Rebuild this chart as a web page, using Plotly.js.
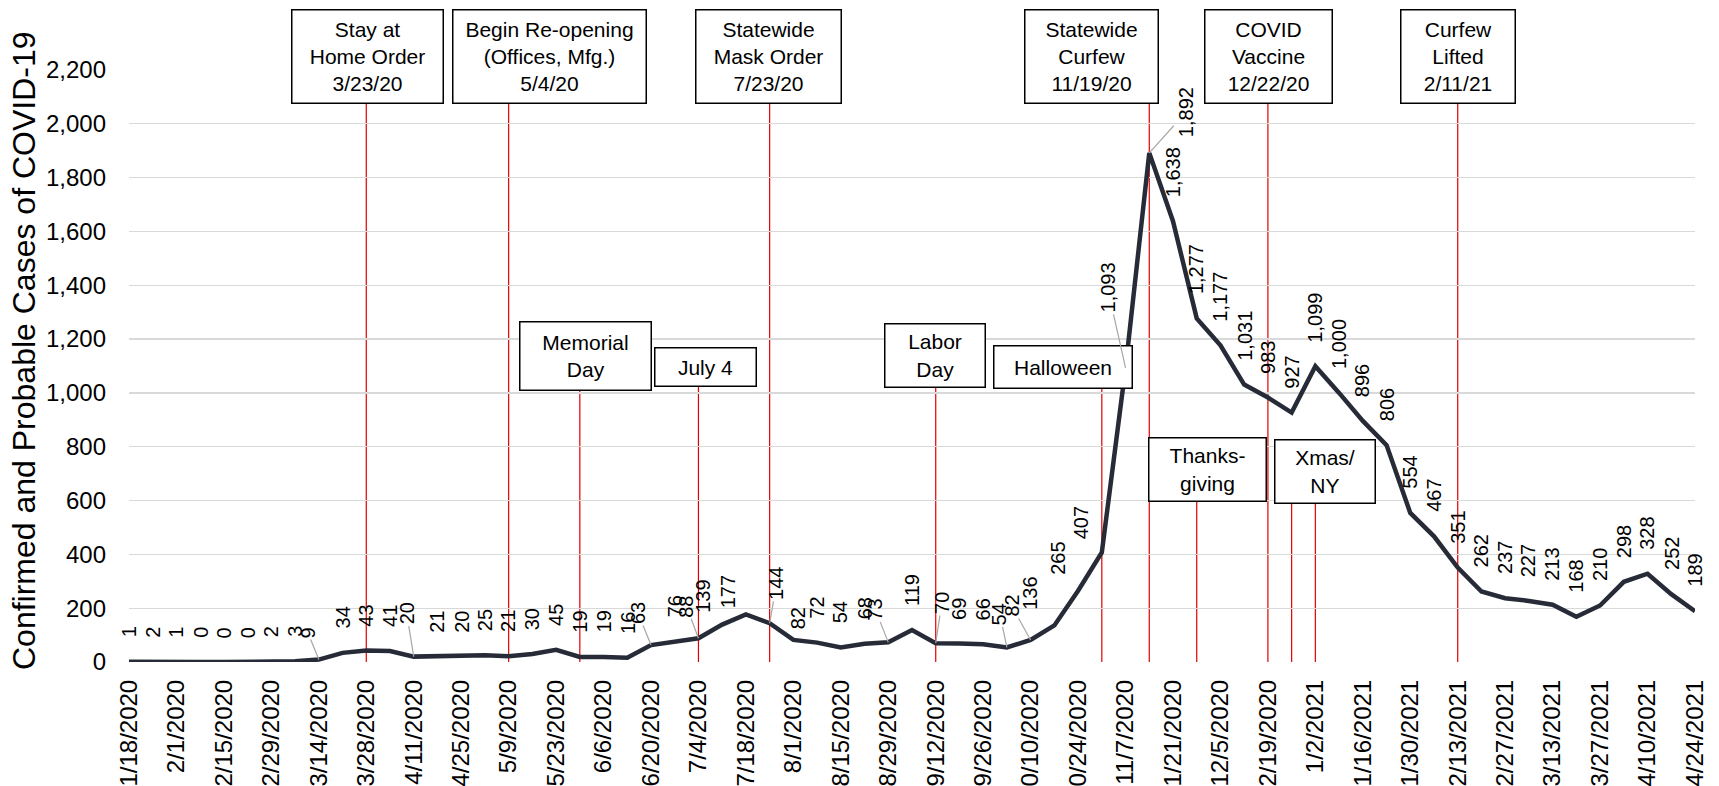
<!DOCTYPE html>
<html><head><meta charset="utf-8">
<script src="https://cdn.plot.ly/plotly-3.0.1.min.js"></script>
<style>html,body{margin:0;padding:0;background:#fff;overflow:hidden}#chart{width:1719px;height:786px}</style>
</head><body><div id="chart"></div>
<script>
// ---------------- DATA ----------------
const weekDates = [
 '2020-01-18','2020-01-25','2020-02-01','2020-02-08','2020-02-15','2020-02-22','2020-02-29','2020-03-07','2020-03-14','2020-03-21',
 '2020-03-28','2020-04-04','2020-04-11','2020-04-18','2020-04-25','2020-05-02','2020-05-09','2020-05-16','2020-05-23','2020-05-30',
 '2020-06-06','2020-06-13','2020-06-20','2020-06-27','2020-07-04','2020-07-11','2020-07-18','2020-07-25','2020-08-01','2020-08-08',
 '2020-08-15','2020-08-22','2020-08-29','2020-09-05','2020-09-12','2020-09-19','2020-09-26','2020-10-03','2020-10-10','2020-10-17',
 '2020-10-24','2020-10-31','2020-11-07','2020-11-14','2020-11-21','2020-11-28','2020-12-05','2020-12-12','2020-12-19','2020-12-26',
 '2021-01-02','2021-01-09','2021-01-16','2021-01-23','2021-01-30','2021-02-06','2021-02-13','2021-02-20','2021-02-27','2021-03-06',
 '2021-03-13','2021-03-20','2021-03-27','2021-04-03','2021-04-10','2021-04-17','2021-04-24'];
const weeklyCases = [
 1,2,1,0,0,0,2,3,9,34,
 43,41,20,21,20,25,21,30,45,19,
 19,16,63,76,88,139,177,144,82,72,
 54,68,73,119,70,69,66,54,82,136,
 265,407,1093,1892,1638,1277,1177,1031,983,927,
 1099,1000,896,806,554,467,351,262,237,227,
 213,168,210,298,328,252,189];
const eventNames = [
 'Stay at<br>Home Order<br>3/23/20',
 'Begin Re-opening<br>(Offices, Mfg.)<br>5/4/20',
 'Statewide<br>Mask Order<br>7/23/20',
 'Statewide<br>Curfew<br>11/19/20',
 'COVID<br>Vaccine<br>12/22/20',
 'Curfew<br>Lifted<br>2/11/21',
 'Memorial<br>Day',
 'July 4',
 'Labor<br>Day',
 'Halloween',
 'Thanks-<br>giving',
 'Xmas/<br>NY'];
const eventWeeks = [
 ['2020-03-28'],['2020-05-09'],['2020-07-25'],['2020-11-14'],['2020-12-19'],['2021-02-13'],
 ['2020-05-30'],['2020-07-04'],['2020-09-12'],['2020-10-31'],['2020-11-28'],['2020-12-26','2021-01-02']];
const yTitle = 'Confirmed and Probable Cases of COVID-19';

// ---------------- LAYOUT / STYLE ----------------
const W = 1719, H = 786;
const M = {l:129, r:24, t:70, b:124};
const PW = W - M.l - M.r, PH = H - M.t - M.b;
const px2x = px => (px - M.l) / PW;
const px2y = py => (M.t + PH - py) / PH;
const FONT = 'Liberation Sans, Arial, Helvetica, sans-serif';

// box geometry in pixels: [centerX, top, width, height]
const boxGeom = [
 [367.5, 9, 153, 95],[549.5, 9, 195, 95],[768.5, 9, 147, 95],
 [1091.5, 9, 135, 95],[1268.5, 9, 129, 95],[1458, 9, 116, 95],
 [585, 321, 133, 70],[705.5, 347, 103, 40],[935, 323, 102, 65],
 [1063, 345, 140, 44],[1207.5, 437, 119, 65],[1325, 439, 102, 65]];

// label placement tweaks (pixel offsets of label centre from the point)
const labelTweak = {
 8:[-11,-27,true], 12:[-7,-43,true], 22:[-13,-32,true], 24:[-12,-32,true],
 25:[-20,-28,false], 26:[-18,-23,false], 27:[7,-40,true], 28:[5,-22,false],
 32:[-13,-33,true], 34:[6,-40,true], 37:[-7,-33,true], 38:[-19,-34,true],
 39:[-24,-32,false], 40:[-20,-32,false], 41:[-20,-30,false],
 42:[-18,-80,true], 43:[37,-41,true]};

const traces = [{
  x: weekDates, y: weeklyCases, type:'scatter', mode:'lines',
  line:{color:'#272b37', width:4.5}, hoverinfo:'skip', showlegend:false
}];

const shapes = [];
const annotations = [];

eventWeeks.forEach((dates, i) => {
  const g = boxGeom[i];
  const bottom = g[1] + g[3];
  dates.forEach(d => {
    shapes.push({type:'line', xref:'x', yref:'paper', x0:d, x1:d, y0:0, y1:px2y(bottom),
      line:{color:'#e10000', width:1.2}, layer:'between'});
  });
  annotations.push({
    xref:'paper', yref:'paper', x:px2x(g[0]), y:px2y(g[1]), xanchor:'center', yanchor:'top',
    text:eventNames[i], showarrow:false, align:'center', valign:'middle',
    width:g[2]-3, height:g[3]-3, bgcolor:'#ffffff', bordercolor:'#000000', borderwidth:1.5, borderpad:0,
    font:{family:FONT, size:21, color:'#000'}
  });
});

weeklyCases.forEach((v, i) => {
  const t = labelTweak[i];
  const base = {x:weekDates[i], y:v, xref:'x', yref:'y', text:v.toLocaleString('en-US'),
    textangle:-90, font:{family:FONT, size:20, color:'#000'}};
  if (!t) {
    annotations.push(Object.assign(base, {showarrow:false, xanchor:'center', yanchor:'bottom', yshift:22}));
  } else if (t[2]) {
    annotations.push(Object.assign(base, {showarrow:true, arrowhead:0, arrowwidth:1.2, arrowcolor:'#a6a6a6',
      ax:t[0], ay:t[1], standoff:0, xanchor:'center', yanchor:'middle'}));
  } else {
    annotations.push(Object.assign(base, {showarrow:false, xanchor:'center', yanchor:'middle', xshift:t[0], yshift:-t[1]}));
  }
});

annotations.push({xref:'paper', yref:'paper', x:0, xshift:-(M.l-24), y:px2y(351), xanchor:'center', yanchor:'middle',
  text:yTitle, textangle:-90, showarrow:false, font:{family:FONT, size:32, color:'#000'}});

const layout = {
  width:W, height:H, margin:M, paper_bgcolor:'#fff', plot_bgcolor:'#fff',
  showlegend:false, hovermode:false,
  xaxis:{type:'date', range:[weekDates[0], weekDates[weekDates.length-1]],
    tick0:weekDates[0], dtick:14*86400000, tickformat:'%-m/%-d/%Y', tickangle:-90,
    tickfont:{family:FONT, size:24, color:'#000'}, showgrid:false, zeroline:false, showline:false, ticks:'',
    ticklabelstandoff:12, automargin:false, fixedrange:true},
  yaxis:{range:[0,2200], dtick:200, tick0:0, tickformat:',d', showgrid:true, gridcolor:'#d9d9d9', gridwidth:1.3,
    zeroline:false, showline:false, ticks:'', tickfont:{family:FONT, size:24, color:'#000'},
    ticklabelstandoff:22, automargin:false, fixedrange:true},
  shapes, annotations
};
Plotly.newPlot('chart', traces, layout, {displayModeBar:false, staticPlot:true});
</script></body></html>
